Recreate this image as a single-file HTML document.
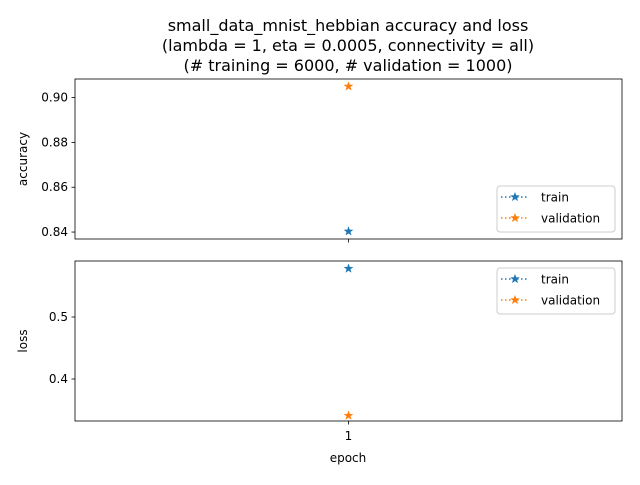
<!DOCTYPE html>
<html><head><meta charset="utf-8">
<style>
html,body{margin:0;padding:0;background:#fff;}
svg text{font-family:"DejaVu Sans","Liberation Sans",sans-serif;fill:#000;}
</style></head>
<body>
<svg id="chart" width="640" height="480" viewBox="0 0 640 480" xmlns="http://www.w3.org/2000/svg">
<g id="title" font-size="16" text-anchor="middle">
<text x="348" y="31" font-size="16">small_data_mnist_hebbian accuracy and loss</text>
<text x="348" y="51" font-size="16">(lambda = 1, eta = 0.0005, connectivity = all)</text>
<text x="348" y="71" font-size="16">(# training = 6000, # validation = 1000)</text>
</g>
</svg>
<script>
const epochs = [1];
const trainAcc = [0.8403];
const valAcc = [0.905];
const trainLoss = [0.578];
const valLoss = [0.341];
const accTicks = [0.84, 0.86, 0.88, 0.90];
const lossTicks = [0.4, 0.5];
const xTicks = [1];

const svg = document.getElementById('chart');
const NS = 'http://www.w3.org/2000/svg';
function mk(tag, attrs, parent){const e=document.createElementNS(NS,tag);for(const k in attrs)e.setAttribute(k,attrs[k]);(parent||svg).appendChild(e);return e;}
function star(cx,cy,r,color,parent){
  let pts=[];for(let i=0;i<10;i++){const rr=i%2?r*0.4:r;const a=-Math.PI/2+i*Math.PI/5;pts.push((cx+rr*Math.cos(a)).toFixed(2)+','+(cy+rr*Math.sin(a)).toFixed(2));}
  return mk('polygon',{points:pts.join(' '),fill:color,stroke:color,'stroke-width':0.5},parent);
}
const L=75,R=622;
const xScale = v => L + (v-0.945)/(1.055-0.945)*(R-L);

function panel(name, top, bottom, ymin, ymax, ticks, fmt, tr, va, ylabel, legendY, showXLabels){
  const g=mk('g',{});
  
  
  const ys = v => bottom - (v-ymin)/(ymax-ymin)*(bottom-top);
  ticks.forEach(t=>{
    const y=ys(t);
    mk('line',{x1:L-3.5,x2:L,y1:y,y2:y,stroke:'#000','stroke-width':0.8},g);
    const tx=mk('text',{x:L-7,y:y+4,'font-size':12,'text-anchor':'end'},g);tx.textContent=fmt(t);
    
    
  });
  xTicks.forEach(t=>{
    const x=xScale(t);
    mk('line',{x1:x,x2:x,y1:bottom,y2:bottom+3.5,stroke:'#000','stroke-width':0.8},g);
    if(showXLabels){const tx=mk('text',{x:x,y:bottom+19,'font-size':12,'text-anchor':'middle'},g);tx.textContent=t;
      
      }
  });
  const yl=mk('text',{x:0,y:0,'font-size':12,'text-anchor':'middle',transform:`translate(27,${(top+bottom)/2}) rotate(-90)`},g);
  yl.textContent=ylabel;
  
  
  [[tr,'#1f77b4','train'],[va,'#ff7f0e','validation']].forEach(([arr,c,s])=>{
    const pts=arr.map((v,i)=>xScale(epochs[i])+','+ys(v)).join(' ');
    mk('polyline',{points:pts,fill:'none',stroke:c,'stroke-width':1.5,'stroke-dasharray':'1.5,2.5'},g);
    arr.forEach((v,i)=>{const p=star(xScale(epochs[i]),ys(v),4.5,c,g);
      
      });
  });
  mk('rect',{x:L,y:top,width:R-L,height:bottom-top,fill:'none',stroke:'#000','stroke-width':0.8},g);
  const lg=mk('g',{},g);
  
  
  mk('rect',{x:497,y:legendY,width:118,height:46,rx:3,fill:'#fff','fill-opacity':0.8,stroke:'#ccc','stroke-width':1},lg);
  [['train','#1f77b4'],['validation','#ff7f0e']].forEach(([lab,c],i)=>{
    const y=legendY+11+i*21;
    const e=mk('g',{},lg);
    
    
    mk('line',{x1:501,x2:529,y1:y,y2:y,stroke:c,'stroke-width':1.5,'stroke-dasharray':'1.5,2.5'},e);
    star(515,y,4.5,c,e);
    const t=mk('text',{x:541,y:y+4.5,'font-size':12},e);t.textContent=lab;
  });
}
panel('accuracy',79,239,0.8369,0.9083,accTicks,v=>v.toFixed(2),trainAcc,valAcc,'accuracy',186,false);
panel('loss',261,421,0.3323,0.5903,lossTicks,v=>v.toFixed(1),trainLoss,valLoss,'loss',268,true);
const xl=mk('text',{x:348,y:462,'font-size':12,'text-anchor':'middle'});
xl.textContent='epoch';


</script>
</body></html>
